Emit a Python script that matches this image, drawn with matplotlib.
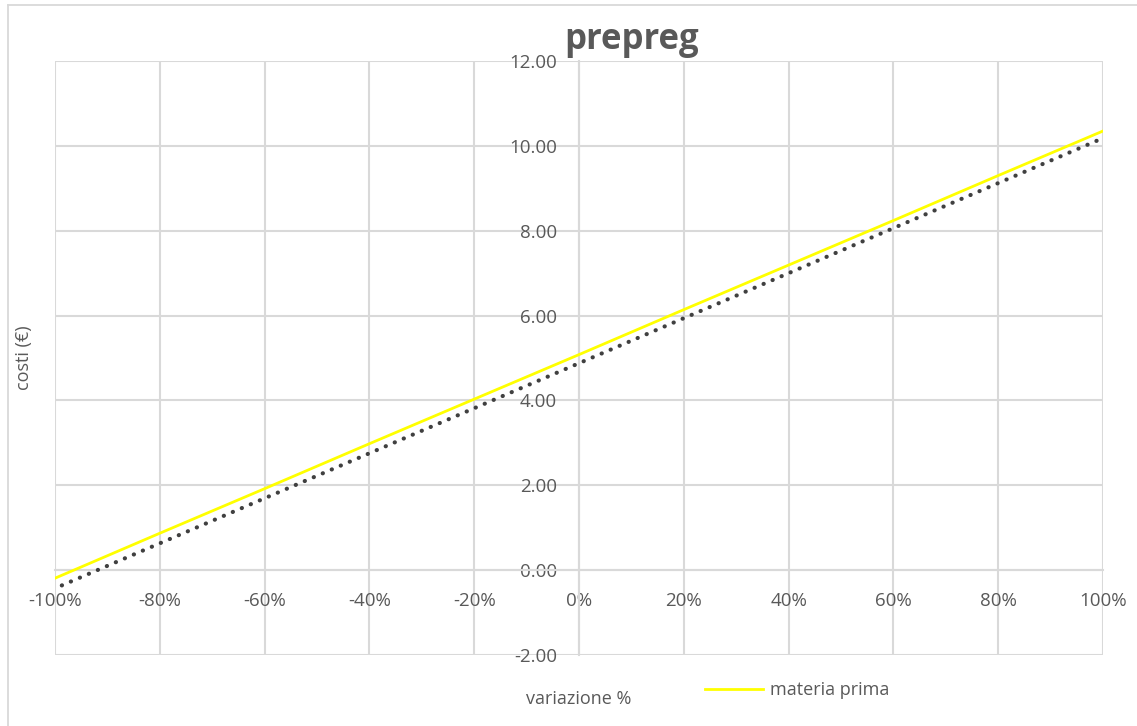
import matplotlib.pyplot as plt
from matplotlib.ticker import PercentFormatter, FormatStrFormatter
from matplotlib.lines import Line2D

plt.rcParams['font.family'] = ['Open Sans', 'DejaVu Sans']
plt.rcParams['axes.unicode_minus'] = False

# dati
variazione = [-1.0, -0.8, -0.6, -0.4, -0.2, 0.0, 0.2, 0.4, 0.6, 0.8, 1.0]
materia_prima = [-0.19, 0.87, 1.92, 2.98, 4.03, 5.08, 6.14, 7.19, 8.24, 9.30, 10.35]
trend_x = [-0.987, 0.99]
trend_y = [-0.36, 10.13]

x_ticks = [-1.0, -0.8, -0.6, -0.4, -0.2, 0.0, 0.2, 0.4, 0.6, 0.8, 1.0]
y_ticks = [-2, 0, 2, 4, 6, 8, 10, 12]

grid_col = '#d9d9d9'
text_col = '#595959'

fig = plt.figure(figsize=(11.37, 7.26), dpi=100)
ax = fig.add_axes([55 / 1137, 1 - 655 / 726, 1048 / 1137, 594 / 726])

ax.plot(trend_x, trend_y, color='#404040', linewidth=3,
        linestyle=(0, (0.05, 2.3)), dash_capstyle='round', zorder=3)
ax.plot(variazione, materia_prima, color='#ffff00', linewidth=2, zorder=4,
        label='materia prima')

ax.set_xlim(-1, 1)
ax.set_ylim(-2, 12)
ax.set_xticks(x_ticks)
ax.set_yticks(y_ticks)
ax.xaxis.set_major_formatter(PercentFormatter(1.0, decimals=0))
ax.yaxis.set_major_formatter(FormatStrFormatter('%.2f'))
ax.grid(True, color=grid_col, linewidth=1.5)
ax.set_axisbelow(True)

for side in ['top', 'right']:
    ax.spines[side].set_visible(False)
ax.spines['left'].set_position(('data', 0))
ax.spines['bottom'].set_position(('data', 0))
ax.spines['left'].set_color(grid_col)
ax.spines['bottom'].set_color(grid_col)
ax.spines['left'].set_linewidth(1.5)
ax.spines['bottom'].set_linewidth(1.5)
ax.tick_params(length=0, labelsize=13.5, labelcolor=text_col)
ax.tick_params(axis='x', pad=16)
ax.tick_params(axis='y', pad=16)

ax.set_xlabel('variazione %', fontsize=13, color=text_col)
ax.xaxis.set_label_coords(0.5, -0.059)
ax.set_ylabel('costi (€)', fontsize=13, color=text_col)
ax.yaxis.set_label_coords(-0.021, 0.5)

fig.text(632 / 1137, 1 - 40 / 726, 'prepreg', fontsize=25, fontweight='bold',
         color=text_col, ha='center', va='center')

fig.legend(loc='center', bbox_to_anchor=(797 / 1137, 1 - 690 / 726),
           frameon=False, fontsize=13, labelcolor=text_col,
           handlelength=3.2, handletextpad=0.4)

# bordo del grafico (solo sinistra e alto visibili)
fig.add_artist(Line2D([8 / 1137, 8 / 1137], [0, 1 - 5 / 726],
                      transform=fig.transFigure, color=grid_col, linewidth=1.3))
fig.add_artist(Line2D([8 / 1137, 1], [1 - 5 / 726, 1 - 5 / 726],
                      transform=fig.transFigure, color=grid_col, linewidth=1.3))

fig.savefig('out.png', dpi=100)
